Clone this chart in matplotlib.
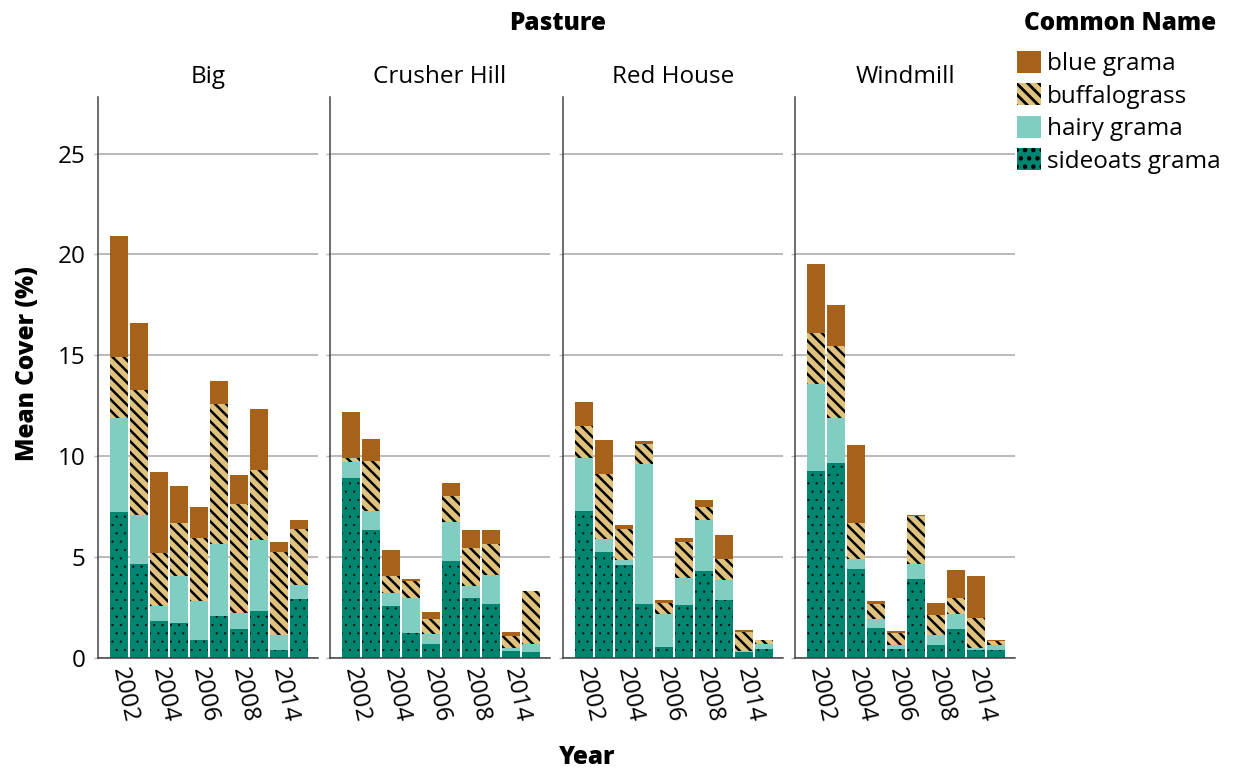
import matplotlib
matplotlib.use("Agg")
import matplotlib.pyplot as plt
from matplotlib.patches import Patch
import numpy as np

plt.rcParams['font.family'] = ['Open Sans', 'DejaVu Sans']
plt.rcParams['hatch.linewidth'] = 2.0

years = ['2002', '2003', '2004', '2005', '2006', '2007', '2008', '2009', '2014', '2015']
tick_years = ['2002', '2004', '2006', '2008', '2014']
pastures = ['Big', 'Crusher Hill', 'Red House', 'Windmill']
species = ['blue grama', 'buffalograss', 'hairy grama', 'sideoats grama']

# values per pasture, per species (stacked bottom -> top: sideoats, hairy, buffalo, blue)
sideoats = {
    'Big':          [7.23, 4.66, 1.82, 1.72, 0.89, 2.08, 1.44, 2.33, 0.40, 2.91],
    'Crusher Hill': [8.90, 6.33, 2.58, 1.22, 0.68, 4.79, 2.96, 2.66, 0.35, 0.28],
    'Red House':    [7.28, 5.24, 4.59, 2.66, 0.53, 2.63, 4.30, 2.86, 0.28, 0.43],
    'Windmill':     [9.27, 9.65, 4.40, 1.47, 0.43, 3.90, 0.63, 1.42, 0.38, 0.38],
}
hairy = {
    'Big':          [4.67, 2.41, 0.74, 2.34, 1.94, 3.57, 0.79, 3.52, 0.72, 0.69],
    'Crusher Hill': [0.80, 0.94, 0.63, 1.74, 0.49, 1.93, 0.61, 1.44, 0.15, 0.40],
    'Red House':    [2.63, 0.64, 0.27, 6.95, 1.64, 1.32, 2.52, 0.99, 0.05, 0.25],
    'Windmill':     [4.29, 2.23, 0.49, 0.45, 0.20, 0.74, 0.49, 0.75, 0.10, 0.25],
}
buffalo = {
    'Big':          [3.02, 6.20, 2.66, 2.61, 3.12, 6.94, 5.39, 3.47, 4.15, 2.78],
    'Crusher Hill': [0.23, 2.48, 0.84, 0.84, 0.75, 1.31, 1.88, 1.53, 0.59, 2.63],
    'Red House':    [1.59, 3.22, 1.52, 0.98, 0.56, 1.78, 0.65, 1.08, 0.94, 0.20],
    'Windmill':     [2.53, 3.57, 1.78, 0.74, 0.59, 2.40, 1.00, 0.79, 1.49, 0.20],
}
blue = {
    'Big':          [5.98, 3.31, 3.98, 1.84, 1.52, 1.12, 1.43, 3.00, 0.46, 0.44],
    'Crusher Hill': [2.25, 1.09, 1.29, 0.10, 0.34, 0.63, 0.88, 0.70, 0.18, 0.00],
    'Red House':    [1.17, 1.69, 0.20, 0.15, 0.13, 0.20, 0.34, 1.15, 0.10, 0.03],
    'Windmill':     [3.42, 2.03, 3.87, 0.15, 0.10, 0.05, 0.59, 1.39, 2.08, 0.05],
}

colors = {'blue grama': '#A6611A', 'buffalograss': '#DFC27D',
          'hairy grama': '#80CDC1', 'sideoats grama': '#018571'}
hatches = {'blue grama': None, 'buffalograss': '\\\\\\', 'hairy grama': None,
           'sideoats grama': '..'}
hatch_lw = {'blue grama': 1.0, 'buffalograss': 1.8, 'hairy grama': 1.0,
            'sideoats grama': 0.3}


def style_patch(p, name):
    if hasattr(p, 'set_hatch_linewidth'):
        p.set_hatch_linewidth(hatch_lw[name])


W, H = 1239, 771
fig = plt.figure(figsize=(W / 100, H / 100), dpi=100)

lefts = [98, 330, 563, 795]
pw = 220
top_px, bot_px = 97, 658
x = np.arange(len(years))
fs = 17.5

for i, (p, lp) in enumerate(zip(pastures, lefts)):
    ax = fig.add_axes([lp / W, (H - bot_px) / H, pw / W, (bot_px - top_px) / H])
    ax.set_xlim(-1.05, 9.95)
    ax.set_ylim(0, 27.8)
    ax.set_axisbelow(True)
    ax.yaxis.grid(True, color='#b4b4b4', linewidth=1.3)
    ax.set_yticks([0, 5, 10, 15, 20, 25])
    for s in ['top', 'right']:
        ax.spines[s].set_visible(False)
    for s in ['left', 'bottom']:
        ax.spines[s].set_color('#444444')
        ax.spines[s].set_linewidth(1.1)
    ax.tick_params(axis='x', length=0)
    ax.tick_params(axis='y', length=3, color='#b4b4b4', width=1)
    if i == 0:
        ax.set_yticklabels(['0', '5', '10', '15', '20', '25'], fontsize=fs)
        ax.tick_params(axis='y', pad=6)
    else:
        ax.set_yticklabels([])
    bottom = np.zeros(len(years))
    layers = [('sideoats grama', sideoats[p]), ('hairy grama', hairy[p]),
              ('buffalograss', buffalo[p]), ('blue grama', blue[p])]
    for name, vals in layers:
        vals = np.array(vals)
        bars = ax.bar(x, vals, width=0.9, bottom=bottom, color=colors[name],
                      hatch=hatches[name], edgecolor='black', linewidth=0)
        for b in bars:
            style_patch(b, name)
        bottom = bottom + vals
    ax.set_xticks([years.index(t) for t in tick_years])
    ax.set_xticklabels(tick_years, fontsize=fs, rotation=-78,
                       rotation_mode='anchor', ha='left', va='center')
    ax.tick_params(axis='x', pad=7)
    ax.set_title(p, fontsize=fs, pad=10)

bold = dict(fontsize=fs, fontweight='heavy')
fig.text(558 / W, 1 - 23 / H, 'Pasture', ha='center', va='center', **bold)
fig.text(587 / W, 1 - 758 / H, 'Year', ha='center', va='center', **bold)
fig.text(28 / W, 1 - 364 / H, 'Mean Cover (%)', ha='center', va='center',
         rotation=90, **bold)
fig.text(1024 / W, 1 - 23 / H, 'Common Name', ha='left', va='center', **bold)

handles = []
for s in species:
    hp = Patch(facecolor=colors[s], hatch=hatches[s], edgecolor='black',
               linewidth=0, label=s)
    style_patch(hp, s)
    handles.append(hp)
leg = fig.legend(handles=handles, loc='upper left',
                 bbox_to_anchor=(1012 / W, 1 - 46 / H), frameon=False,
                 fontsize=fs,
                 handlelength=1.0, handleheight=1.0, handletextpad=0.25,
                 labelspacing=0.3, borderaxespad=0, borderpad=0.2)

fig.savefig('out.png', dpi=100)
